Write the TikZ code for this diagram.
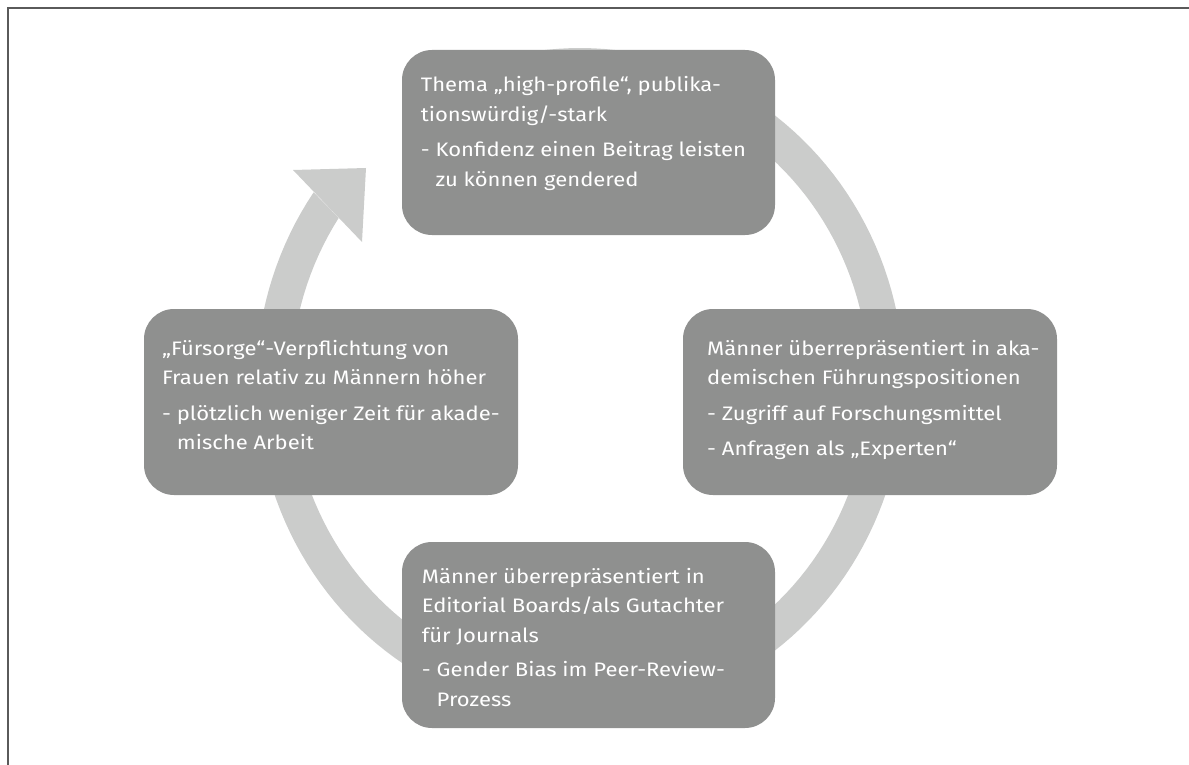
\documentclass[tikz,border=0pt]{standalone}
\usepackage{fontspec}
\setmainfont{Fira Sans}[FakeStretch=1.13]
\definecolor{boxgray}{HTML}{8F908F}
\definecolor{ringgray}{HTML}{CBCCCB}
\definecolor{framegray}{HTML}{5A5A5A}
\begin{document}
\begin{tikzpicture}[x=1pt,y=-1pt,
  box/.style={fill=boxgray, rounded corners=30pt, minimum width=373pt, minimum height=186pt, inner sep=0pt},
  txt/.style={anchor=base west, inner sep=0pt, text=white, font=\fontsize{19.5}{29.5}\selectfont},
  ringpart/.style={fill=ringgray}]
\useasboundingbox (0,0) rectangle (1189,765);
\draw[framegray, line width=1.3pt] (1189,8) -- (8,8) -- (8,765);
% ring with arrow
\fill[ringpart] plot[domain=250:574.7,samples=160] ({580+324*cos(\x)},{383+335*sin(\x)})
  -- plot[domain=573.4:250,samples=160] ({580+289*cos(\x)},{383+300*sin(\x)}) -- cycle;
\coordinate (hb1) at (293,170);
\coordinate (htip) at (366,168);
\coordinate (hb2) at (362,242);
\fill[ringpart] (hb1) -- (htip) -- (hb2) -- cycle;
% boxes
\node[box, minimum height=185pt] (top) at (588.5,142.5) {};
\node[box, minimum width=374pt] (left) at (331,402) {};
\node[box, minimum width=374pt] (right) at (870,402) {};
\node[box] (bottom) at (588.5,635) {};
% texts
\node[txt] (toptext) at (420.7,92) {\vtop{\baselineskip=29.5pt
  \hbox{Thema „high-profile“, publika-}
  \hbox{tionswürdig/-stark}\vskip6pt
  \hbox{- Konfidenz einen Beitrag leisten}
  \hbox{\hphantom{- }zu können gendered}}};
\node[txt] (lefttext) at (162,355) {\vtop{\baselineskip=29.5pt
  \hbox{„Fürsorge“-Verpflichtung von}
  \hbox{Frauen relativ zu Männern höher}\vskip6pt
  \hbox{- plötzlich weniger Zeit für akade-}
  \hbox{\hphantom{- }mische Arbeit}}};
\node[txt] (righttext) at (707,355) {\vtop{\baselineskip=29.5pt
  \hbox{Männer überrepräsentiert in aka-}
  \hbox{demischen Führungspositionen}\vskip6pt
  \hbox{- Zugriff auf Forschungsmittel}\vskip6pt
  \hbox{- Anfragen als „Experten“}}};
\node[txt] (bottomtext) at (421.7,583) {\vtop{\baselineskip=29.5pt
  \hbox{Männer überrepräsentiert in}
  \hbox{Editorial Boards/als Gutachter}
  \hbox{für Journals}\vskip5pt
  \hbox{- Gender Bias im Peer-Review-}
  \hbox{\hphantom{- }Prozess}}};
\end{tikzpicture}
\end{document}
